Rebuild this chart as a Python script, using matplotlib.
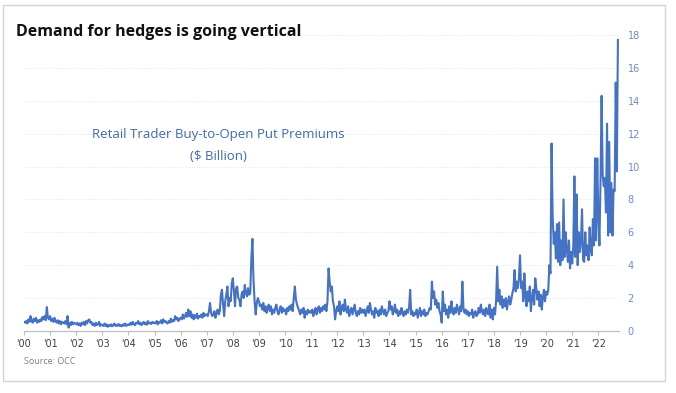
import matplotlib
matplotlib.use("Agg")
import matplotlib.pyplot as plt
from matplotlib.patches import Rectangle
import numpy as np

# Semi-monthly estimates of retail buy-to-open put premiums ($ billion), 2000 -> Sep 2022
y2000 = [0.55,0.5,0.6,0.45,0.7,0.55,0.9,0.6,0.5,0.75,0.6,0.8,0.5,0.65,0.55,0.7,0.6,0.85,0.7,0.9,0.65,1.45,0.8,0.7]
y2001 = [0.9,0.6,0.75,0.55,0.8,0.6,0.5,0.65,0.45,0.6,0.4,0.55,0.5,0.45,0.6,0.4,0.9,0.2,0.5,0.35,0.55,0.4,0.5,0.45]
y2002 = [0.4,0.5,0.35,0.45,0.3,0.5,0.4,0.55,0.35,0.6,0.45,0.65,0.7,0.5,0.55,0.35,0.45,0.3,0.5,0.35,0.4,0.55,0.3,0.4]
y2003 = [0.35,0.3,0.45,0.3,0.4,0.25,0.35,0.3,0.4,0.28,0.35,0.45,0.3,0.38,0.3,0.42,0.3,0.35,0.28,0.4,0.32,0.45,0.3,0.38]
y2004 = [0.4,0.35,0.5,0.38,0.55,0.4,0.35,0.5,0.45,0.6,0.4,0.5,0.35,0.45,0.55,0.4,0.5,0.38,0.6,0.45,0.5,0.42,0.55,0.48]
y2005 = [0.5,0.45,0.6,0.4,0.55,0.5,0.65,0.45,0.7,0.55,0.6,0.5,0.45,0.6,0.5,0.75,0.55,0.65,0.6,0.9,0.7,0.8,0.6,0.75]
y2006 = [0.8,0.7,1.0,0.75,0.9,1.1,0.85,1.3,0.9,1.2,0.8,1.0,0.7,0.95,0.8,1.05,0.75,0.9,0.85,1.0,0.8,1.1,0.9,1.0]
y2007 = [1.0,0.9,1.2,1.7,1.1,0.9,1.0,1.2,0.8,1.1,1.3,1.0,1.2,2.2,2.5,1.6,0.9,1.8,2.2,2.7,1.5,2.0,1.8,2.9]
y2008 = [3.2,2.4,1.5,2.6,2.7,2.0,1.9,1.5,2.2,2.4,2.0,2.8,2.3,2.1,2.6,2.2,2.3,4.4,5.6,3.1,1.8,1.0,1.7,2.0]
y2009 = [1.8,1.5,1.6,1.3,1.7,1.2,1.5,1.1,1.4,1.6,1.2,1.5,1.0,1.3,1.1,1.4,1.6,1.2,1.0,1.3,1.5,1.1,1.4,1.2]
y2010 = [1.3,1.0,1.4,1.2,1.5,1.3,1.6,1.2,2.0,2.7,1.9,1.6,1.4,1.2,1.0,1.3,1.1,1.4,0.8,1.2,1.0,1.3,1.1,1.2]
y2011 = [1.1,1.3,0.9,1.2,1.4,1.0,1.3,1.5,1.1,1.4,1.2,1.5,1.3,1.6,1.2,1.8,3.8,3.0,2.4,2.7,1.8,1.5,0.7,1.2]
y2012 = [1.5,1.2,1.8,1.0,1.4,1.6,1.2,1.9,1.3,1.1,1.5,0.9,1.2,1.4,1.0,1.3,1.6,1.1,0.9,1.2,1.0,1.4,1.1,1.3]
y2013 = [1.1,1.3,0.9,1.2,1.5,1.1,1.7,1.3,1.0,1.2,0.8,1.4,1.1,1.2,0.9,1.3,1.0,1.5,1.2,1.0,1.3,0.9,1.1,1.2]
y2014 = [1.8,1.3,1.5,1.0,1.2,1.6,1.1,1.3,0.9,1.2,1.0,1.4,1.1,0.9,1.2,1.0,1.3,1.1,1.4,2.5,1.0,1.2,0.9,1.1]
y2015 = [1.0,1.3,0.8,1.1,1.4,0.9,1.2,1.0,1.3,0.9,1.1,1.0,1.2,1.4,1.3,3.0,2.0,2.4,1.6,1.9,1.4,1.7,1.2,1.0]
y2016 = [0.5,2.4,1.2,1.6,1.0,1.3,0.8,1.5,1.1,1.8,1.2,1.0,1.4,1.1,1.6,1.3,1.0,1.5,1.2,3.0,1.4,1.1,1.3,1.0]
y2017 = [1.2,0.9,1.1,1.0,1.3,0.8,1.1,1.2,0.9,1.0,1.4,1.1,1.6,1.2,1.0,1.3,0.9,1.4,1.1,1.0,1.6,0.8,1.3,0.7]
y2018 = [1.4,1.0,1.8,3.9,1.8,2.5,1.6,2.1,1.4,1.9,1.5,2.0,1.3,1.8,2.1,1.6,1.9,2.3,2.6,3.7,2.4,3.0,2.6,3.2]
y2019 = [4.6,2.6,3.0,1.8,3.5,2.2,1.5,2.4,1.8,2.7,1.2,2.0,2.5,1.6,3.2,2.6,1.9,2.4,1.5,2.2,1.3,2.0,2.5,1.8]
y2020 = [2.4,2.2,2.5,4.0,3.5,11.4,7.0,5.3,6.0,4.4,6.5,4.2,6.6,4.0,5.5,4.3,8.0,4.5,6.0,5.0,4.2,5.5,3.8,4.8]
y2021 = [4.1,5.2,9.4,4.5,8.3,4.0,6.0,4.8,5.4,7.4,4.3,4.2,6.0,4.6,5.2,4.3,6.3,5.0,4.6,6.8,5.2,10.5,5.5,10.5]
y2022 = [7.0,5.2,9.0,14.3,9.5,8.8,9.3,7.2,12.6,5.8,11.5,6.0,9.0,5.8,8.6,8.5,15.1,9.7,17.7]

years = list(range(2000, 2023))
tick_labels = ["'%02d" % (y % 100) for y in years]
series = (y2000 + y2001 + y2002 + y2003 + y2004 + y2005 + y2006 + y2007 + y2008 +
          y2009 + y2010 + y2011 + y2012 + y2013 + y2014 + y2015 + y2016 + y2017 +
          y2018 + y2019 + y2020 + y2021 + y2022)
values = np.array(series)
xdates = 2000 + np.arange(len(values)) / 24.0

fig = plt.figure(figsize=(6.76, 3.93), dpi=100)
fig.patch.set_facecolor("white")
fig.patches.append(Rectangle((3/676, 12/393), 662/676, 376/393, transform=fig.transFigure,
                             fill=False, edgecolor="#d4d4d4", linewidth=1.0))

ax = fig.add_axes([0.0355, 0.158, 0.8805, 0.753])
ax.plot(xdates, values, color="#4472C4", linewidth=1.5)
ax.set_xlim(2000, 2022.8)
ax.set_ylim(0, 18)

for s in ["top", "left", "right"]:
    ax.spines[s].set_visible(False)
ax.spines["bottom"].set_color("#bfbfbf")
ax.spines["bottom"].set_linewidth(0.9)

ax.set_xticks(years)
ax.set_xticklabels(tick_labels)
ax.tick_params(axis="x", length=3, color="#bfbfbf", labelsize=7, labelcolor="#404040", pad=3)

ax.yaxis.tick_right()
ax.set_yticks(np.arange(0, 19, 2))
ax.tick_params(axis="y", length=0, labelsize=7, labelcolor="#6b8cc7", pad=6)
ax.grid(axis="y", color="#e6e6e6", linestyle=(0, (1, 1.5)), linewidth=0.7)
ax.set_axisbelow(True)

fig.text(16/676, 1 - 32/393, "Demand for hedges is going vertical", fontsize=11.5,
         fontweight="bold", family="Open Sans", color="#111111", va="center", ha="left")
ax.text(2007.43, 11.3, "Retail Trader Buy-to-Open Put Premiums\n($ Billion)",
        fontsize=9.5, family="Open Sans", color="#3f6aaa", ha="center", va="center",
        linespacing=1.9)
fig.text(24/676, 1 - 361/393, "Source: OCC", fontsize=6.5, family="Open Sans",
         color="#7f7f7f", va="center", ha="left")

fig.savefig("out.png", dpi=100)
